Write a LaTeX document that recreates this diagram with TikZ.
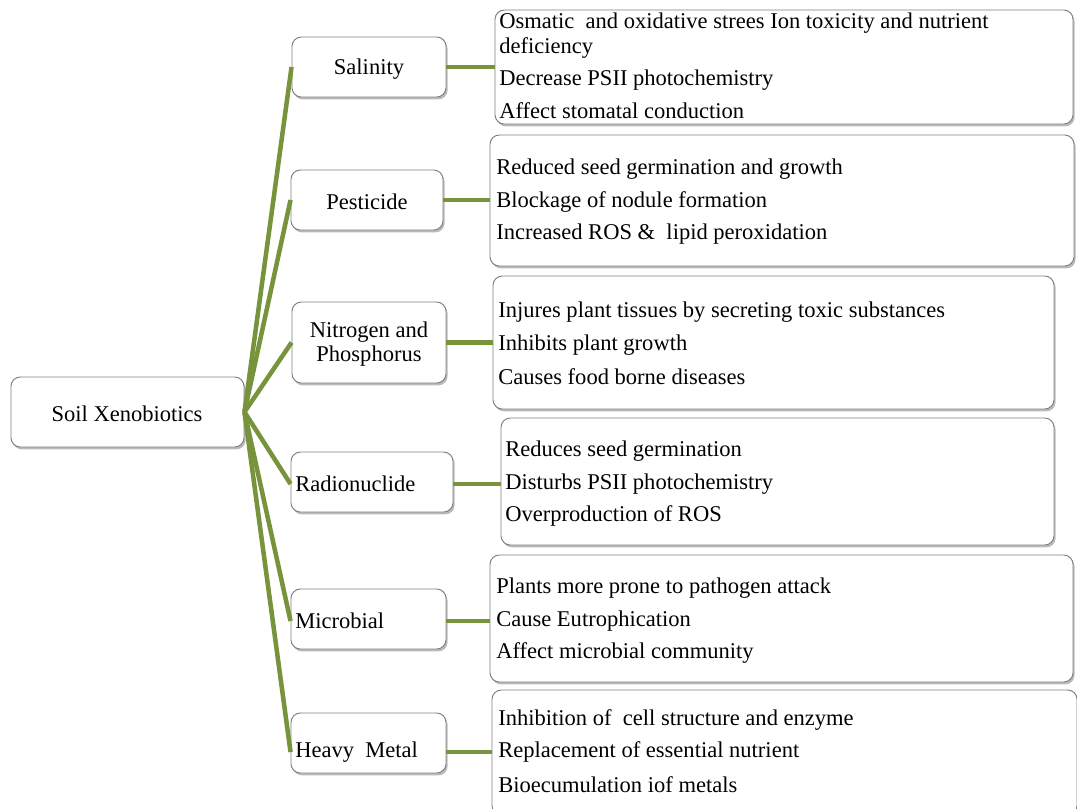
\documentclass[tikz,border=0pt]{standalone}
\usepackage{fontspec}
\setmainfont{Liberation Serif}
\usetikzlibrary{shadows,fit}
\definecolor{lgreen}{HTML}{77933C}
\begin{document}
\begin{tikzpicture}[x=0.75pt,y=-0.75pt,
  box/.style={draw=black!50, line width=0.7pt, rounded corners=7pt, fill=white,
    drop shadow={shadow xshift=1.2pt, shadow yshift=-1.8pt, opacity=0.45, fill=black!60},
    inner sep=0pt},
  conn/.style={draw=lgreen, line width=3.4pt},
  ctr/.style={inner sep=0pt, align=center, font=\fontsize{16.9}{17.5}\selectfont},
  txt/.style={anchor=west, inner sep=0pt, font=\fontsize{16.9}{20}\selectfont},
]
\useasboundingbox (0,0) rectangle (1077,808);
\clip (0,0) rectangle (1077,808);

% root
\node[box, fit={(11,377) (244,447)}] (root) {};
\node[ctr] (roott) at (127,414) {Soil Xenobiotics};

% categories
\node[box, fit={(292,37) (446,97)}] (sal) {};
\node[box, fit={(291,170) (443,230)}] (pes) {};
\node[box, fit={(292,302) (446,383)}] (nit) {};
\node[box, fit={(291,452) (453,512)}] (rad) {};
\node[box, fit={(291,589) (446,649)}] (mic) {};
\node[box, fit={(291,713) (446,773)}] (hm) {};
\node[ctr] (salt) at (369,69) {Salinity};
\node[ctr] (pest) at (367,202) {Pesticide};
\node[ctr] (nitt) at (369,344) {Nitrogen and\\Phosphorus};
\node[txt] (radt) at (295,484) {Radionuclide};
\node[txt] (mict) at (295,621) {Microbial};
\node[txt] (hmt) at (295,752) {Heavy\ \ Metal};

% detail boxes
\node[box, fit={(495,10) (1073,124)}] (d1) {};
\node[box, fit={(490,135) (1074,266)}] (d2) {};
\node[box, fit={(493,276) (1054,409)}] (d3) {};
\node[box, fit={(501,418) (1054,545)}] (d4) {};
\node[box, fit={(490,555) (1073,682)}] (d5) {};
\node[box, fit={(492,690) (1077,815)}] (d6) {};

% detail texts
\node[txt] (t11) at (499,23) {Osmatic\ \ and oxidative strees Ion toxicity and nutrient};
\node[txt] (t12) at (499,48) {deficiency};
\node[txt] (t13) at (499,80) {Decrease PSII photochemistry};
\node[txt] (t14) at (499,111) {Affect stomatal conduction};

\node[txt] (t21) at (496,169) {Reduced seed germination and growth};
\node[txt] (t22) at (496,202) {Blockage of nodule formation};
\node[txt] (t23) at (496,234) {Increased ROS \&\ \ lipid peroxidation};

\node[txt] (t31) at (498,312) {Injures plant tissues by secreting toxic substances};
\node[txt] (t32) at (498,345) {Inhibits plant growth};
\node[txt] (t33) at (498,377) {Causes food borne diseases};

\node[txt] (t41) at (505,451) {Reduces seed germination};
\node[txt] (t42) at (505,484) {Disturbs PSII photochemistry};
\node[txt] (t43) at (505,516) {Overproduction of ROS};

\node[txt] (t51) at (496,588) {Plants more prone to pathogen attack};
\node[txt] (t52) at (496,621) {Cause Eutrophication};
\node[txt] (t53) at (496,653) {Affect microbial community};

\node[txt] (t61) at (498,720) {Inhibition of\ \ cell structure and enzyme};
\node[txt] (t62) at (498,752) {Replacement of essential nutrient};
\node[txt] (t63) at (498,785) {Bioecumulation iof metals};

% connectors from root
\draw[conn] (root.east) -- (sal.west);
\draw[conn] (root.east) -- (pes.west);
\draw[conn] (root.east) -- (nit.west);
\draw[conn] (root.east) -- (rad.west |- radt.west);
\draw[conn] (root.east) -- (mic.west |- mict.west);
\draw[conn] (root.east) -- (hm.west |- hmt.west);

% connectors to details
\draw[conn] (sal.east) -- (d1.west |- sal.east);
\draw[conn] (pes.east) -- (d2.west |- pes.east);
\draw[conn] (nit.east) -- (d3.west |- nit.east);
\draw[conn] (rad.east |- radt.west) -- (d4.west |- radt.west);
\draw[conn] (mic.east |- mict.west) -- (d5.west |- mict.west);
\draw[conn] (hm.east |- hmt.west) -- (d6.west |- hmt.west);
\end{tikzpicture}
\end{document}
